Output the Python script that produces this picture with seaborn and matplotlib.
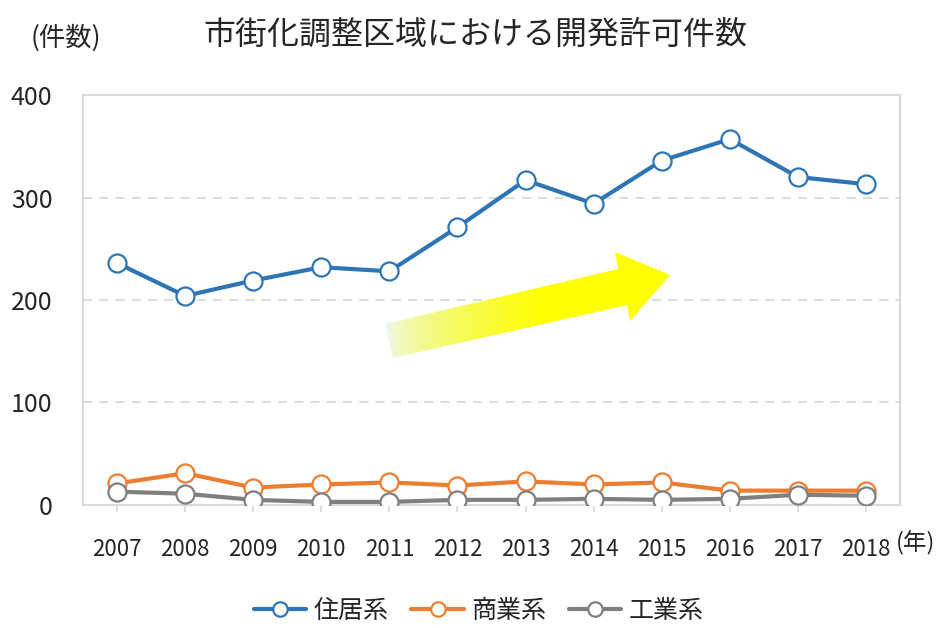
import numpy as np
import pandas as pd
import matplotlib
matplotlib.use('Agg')
import matplotlib.pyplot as plt
from matplotlib.patches import Polygon
import seaborn as sns

# Data
years = ['2007', '2008', '2009', '2010', '2011', '2012',
         '2013', '2014', '2015', '2016', '2017', '2018']
residential = [236, 204, 219, 232, 228, 271, 317, 294, 336, 357, 320, 313]
commercial = [21, 31, 17, 20, 22, 19, 23, 20, 22, 14, 14, 14]
industrial = [13, 11, 5, 3, 3, 5, 5, 6, 5, 6, 10, 9]
series_names = ['住居系', '商業系', '工業系']
colors = ['#2E75B6', '#ED7D31', '#7F7F7F']

# Plot configurations
FIG_W = 9.39
FIG_H = 6.28
TICK_FS = 16
TS = 23

sns.set_theme(style='white')
plt.rcParams['font.family'] = ['Noto Sans CJK JP', 'DejaVu Sans']

df = pd.DataFrame({'idx': list(range(len(years))) * 3,
                   'value': residential + commercial + industrial,
                   'series': [s for s in series_names for _ in years]})

fig = plt.figure(figsize=(FIG_W, FIG_H), dpi=100)
ax = fig.add_axes([0.0884, 0.1959, 0.8701, 0.6528])

# later series are drawn on top (gray over orange, like the reference)
for name, col in zip(series_names, colors):
    sns.lineplot(data=df[df['series'] == name], x='idx', y='value', ax=ax,
                 color=col, linewidth=3, marker='o', markersize=13,
                 markerfacecolor='white', markeredgecolor=col,
                 markeredgewidth=1.6, label=name, legend=False, zorder=3)

ax.set_xlim(-0.5, len(years) - 0.5)
ax.set_ylim(0, 400)
ax.set_yticks([0, 100, 200, 300, 400])
ax.set_xticks(range(len(years)))
ax.set_xticklabels(years, fontsize=TICK_FS)
ax.set_yticklabels(['0', '100', '200', '300', '400'], fontsize=TICK_FS + 2)
ax.set_xlabel('')
ax.set_ylabel('')
ax.tick_params(axis='x', length=5, color='#D9D9D9', pad=19, bottom=True)
ax.tick_params(axis='y', length=0, pad=22)
for sp in ax.spines.values():
    sp.set_color('#D9D9D9')
    sp.set_linewidth(1.5)
for yv in [100, 200, 300]:
    ax.axhline(yv, color='#D9D9D9', linestyle=(0, (5, 4)), linewidth=1.3, zorder=1)

handles, labels = ax.get_legend_handles_labels()
fig.legend(handles, labels, loc='center',
           bbox_to_anchor=(0.51, 0.027), ncol=3, frameon=False,
           fontsize=18, handlelength=2.1, columnspacing=0.9, handletextpad=0.3,
           markerscale=0.8)

fig.text(0.506, 0.945, '市街化調整区域における開発許可件数', ha='center', va='center', fontsize=TS)
fig.text(0.07, 0.94, '(件数)', ha='center', va='center', fontsize=19)
fig.text(0.975, 0.135, '(年)', ha='center', va='center', fontsize=TICK_FS + 1)

# gradient arrow overlay (decoration)
ov = fig.add_axes([0, 0, 1, 1], zorder=5)
ov.axis('off')
ov.patch.set_alpha(0)
pts = [(385, 324), (618, 269), (615, 252), (670, 275), (630, 321),
       (627, 305), (393, 358)]
poly = Polygon(pts, closed=True, facecolor='none', edgecolor='none')
ov.add_patch(poly)
t = np.clip(np.linspace(0, 1, 300) / 0.55, 0, 1)
grad = np.zeros((2, 300, 3))
grad[..., 0] = 0.94 + 0.06 * t
grad[..., 1] = 0.97 + 0.03 * t
grad[..., 2] = 1.0 - t ** 0.6
im = ov.imshow(grad, extent=[385, 670, 358, 252], aspect='auto', interpolation='bilinear')
im.set_clip_path(poly)
ov.set_xlim(0, 939)
ov.set_ylim(628, 0)

fig.savefig('out.png', dpi=100)
